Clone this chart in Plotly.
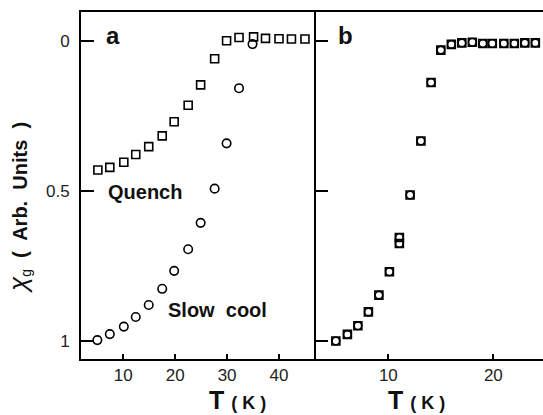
import plotly.graph_objects as go

# Panel a data
quench_T = [5.1, 7.4, 10.1, 12.4, 14.9, 17.5, 19.8, 22.5, 24.9, 27.6, 29.9, 32.3, 35.1, 37.4, 40.0, 42.4, 45.0]
quench_chi = [0.43, 0.421, 0.404, 0.378, 0.352, 0.316, 0.269, 0.214, 0.146, 0.059, -0.001, -0.012, -0.014, -0.009, -0.008, -0.007, -0.007]
slow_T = [5.0, 7.4, 10.1, 12.4, 14.9, 17.5, 19.8, 22.5, 24.9, 27.6, 29.9, 32.3, 34.9]
slow_chi = [0.997, 0.977, 0.952, 0.92, 0.88, 0.826, 0.766, 0.694, 0.606, 0.492, 0.341, 0.157, 0.01]

# Panel b data
b_T = [5.0, 6.1, 7.1, 8.1, 9.1, 10.1, 11.05, 11.05, 12.07, 13.1, 14.07, 15.0, 16.0, 17.0, 18.0, 19.0, 19.9, 21.0, 22.0, 23.0, 24.0]
b_chi = [1.0, 0.978, 0.949, 0.903, 0.847, 0.769, 0.655, 0.675, 0.513, 0.333, 0.138, 0.03, 0.011, 0.006, 0.004, 0.008, 0.008, 0.008, 0.008, 0.006, 0.006]

a_xticks = [10, 20, 30, 40]
b_xticks = [10, 20]
yticks = [0, 0.5, 1]
ytick_labels = ["0", "0.5", "1"]

W, H = 543, 415
L, R, T, B = 81, 0, 12, 56
split = (316 - L) / (W - L - R)

fig = go.Figure()
mk = dict(color="black", line=dict(color="black", width=1.6))
fig.add_trace(go.Scatter(x=quench_T, y=quench_chi, mode="markers", xaxis="x", yaxis="y",
                         marker=dict(symbol="square-open", size=8, **mk), showlegend=False))
fig.add_trace(go.Scatter(x=slow_T, y=slow_chi, mode="markers", xaxis="x", yaxis="y",
                         marker=dict(symbol="circle-open", size=8.5, **mk), showlegend=False))
fig.add_trace(go.Scatter(x=b_T, y=b_chi, mode="markers", xaxis="x2", yaxis="y2",
                         marker=dict(symbol="square-open", size=8, **mk), showlegend=False))
fig.add_trace(go.Scatter(x=b_T, y=b_chi, mode="markers", xaxis="x2", yaxis="y2",
                         marker=dict(symbol="circle-open", size=7.5, **mk), showlegend=False))

tickfont = dict(family="Liberation Sans, Arial, sans-serif", size=17, color="#222")
yrange = [1.06, -0.097]

fig.update_layout(
    width=W, height=H,
    margin=dict(l=L, r=R, t=T, b=B),
    paper_bgcolor="white", plot_bgcolor="white",
    xaxis=dict(domain=[0, split], range=[1.85, 47.13], tickvals=a_xticks,
               ticks="inside", ticklen=5, tickwidth=1.5, tickcolor="black",
               showline=True, linecolor="black", linewidth=2, mirror=True,
               showgrid=False, zeroline=False, tickfont=tickfont, anchor="y"),
    xaxis2=dict(domain=[split, 1], range=[3.11, 24.73], tickvals=b_xticks,
                ticks="inside", ticklen=5, tickwidth=1.5, tickcolor="black",
                showline=True, linecolor="black", linewidth=2, mirror=True,
                showgrid=False, zeroline=False, tickfont=tickfont, anchor="y2"),
    yaxis=dict(range=yrange, tickvals=yticks, ticktext=ytick_labels,
               ticks="inside", ticklen=13, tickwidth=1.5, tickcolor="black",
               showline=True, linecolor="black", linewidth=2,
               showgrid=False, zeroline=False, tickfont=tickfont, anchor="x",
               ticklabelstandoff=6),
    yaxis2=dict(range=yrange, tickvals=yticks, showticklabels=False,
                ticks="inside", ticklen=12, tickwidth=1.5, tickcolor="black",
                showline=True, linecolor="black", linewidth=2,
                showgrid=False, zeroline=False, anchor="x2"),
)

lab = dict(family="Liberation Sans, Arial, sans-serif", color="#111")
fig.add_annotation(x=8.0, y=-0.02, xref="x", yref="y", text="<b>a</b>", showarrow=False,
                   font=dict(size=24, **lab))
fig.add_annotation(x=5.9, y=-0.02, xref="x2", yref="y2", text="<b>b</b>", showarrow=False,
                   font=dict(size=24, **lab))
fig.add_annotation(x=14.2, y=0.503, xref="x", yref="y", text="<b>Quench</b>", showarrow=False,
                   font=dict(size=20, **lab))
fig.add_annotation(x=28.1, y=0.897, xref="x", yref="y", text="<b>Slow  cool</b>", showarrow=False,
                   font=dict(size=20, **lab))

for xc in [207, 447]:
    fig.add_annotation(x=(xc - L) / (W - L - R), y=-(416 - (H - B)) / (H - T - B),
                       xref="paper", yref="paper", showarrow=False, yanchor="bottom",
                       text="<b>T</b> <span style='font-size:18px'><b>( K )</b></span>",
                       font=dict(size=25, **lab))

fig.add_annotation(x=(18 - L) / (W - L - R), y=((H - B) - 208) / (H - T - B),
                   xref="paper", yref="paper", showarrow=False, textangle=-90,
                   xanchor="center", yanchor="middle",
                   text="<span style='font-size:26px'><i>χ</i></span><sub>g</sub>  <b>(  Arb.  Units  )</b>",
                   font=dict(size=20, **lab))

fig.write_html("out.html")
